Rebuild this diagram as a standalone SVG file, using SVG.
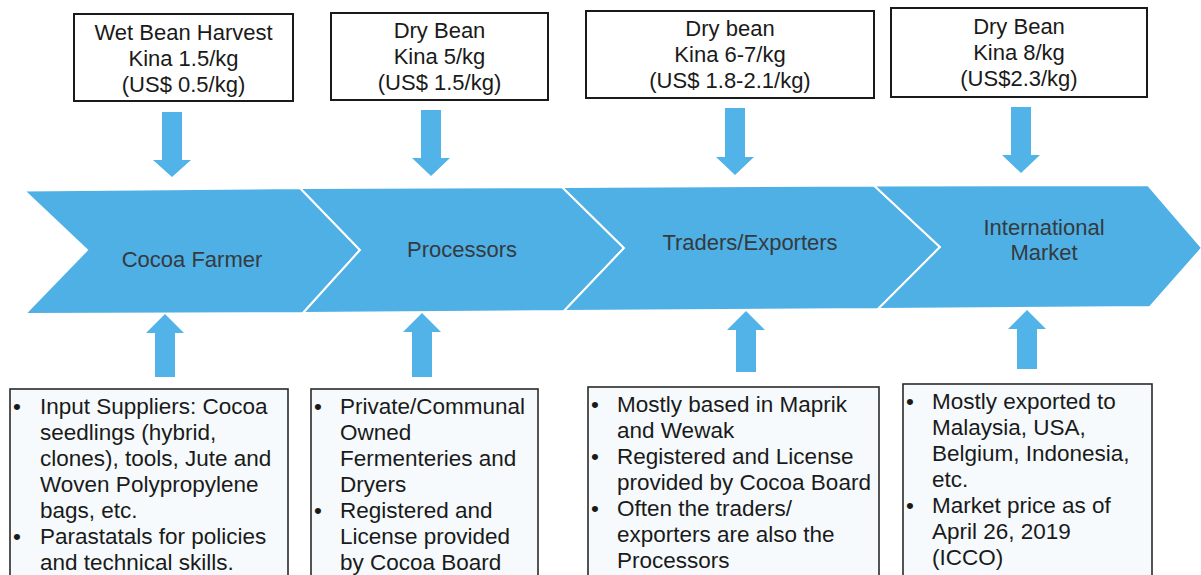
<svg xmlns="http://www.w3.org/2000/svg" width="1201" height="575" viewBox="0 0 1201 575">
<style>
.bg{fill:#ffffff}
.chev{fill:#4eb0e4;stroke:#ffffff;stroke-width:2;stroke-linejoin:miter}
.arr{fill:#51b3e8}
.topbox{fill:#ffffff;stroke:#1a1a1a;stroke-width:2}
.botbox{fill:#f6fafd;stroke:#2a2a2a;stroke-width:1.6}
.t{font-family:"Liberation Sans",Arial,sans-serif;font-size:22px;fill:#1a1a1a}
.c{text-anchor:middle}
.lbl{font-family:"Liberation Sans",Arial,sans-serif;font-size:22px;fill:#353a3f;text-anchor:middle}
.b{font-family:"Liberation Sans",Arial,sans-serif;font-size:22.5px;fill:#1a1a1a}
</style>
<rect class="bg" x="0" y="0" width="1201" height="575"/>

<g id="chain">
  <g id="cocoa-farmer">
    <polygon class="chev" points="24,190.5 300,188 360,250 303,313 25,314 87,250"/>
    <text class="lbl" x="192" y="267">Cocoa Farmer</text>
  </g>
  <g id="processors">
    <polygon class="chev" points="300,188 562,187 624,248 564,311 303,313 360,250"/>
    <text class="lbl" x="462" y="257">Processors</text>
  </g>
  <g id="traders">
    <polygon class="chev" points="562,187 874,185.5 940,247 878,309 564,311 624,248"/>
    <text class="lbl" x="750" y="250">Traders/Exporters</text>
  </g>
  <g id="international">
    <polygon class="chev" points="874,185.5 1148,185 1202,248 1150,307 878,309 940,247"/>
    <text class="lbl" x="1044" y="235">International</text>
    <text class="lbl" x="1044" y="260">Market</text>
  </g>
</g>

<g id="price-boxes">
  <g id="price-farmer">
    <rect class="topbox" x="74" y="14" width="219" height="87"/>
    <text class="t c" x="183.5" y="40">Wet Bean Harvest</text>
    <text class="t c" x="183.5" y="66">Kina 1.5/kg</text>
    <text class="t c" x="183.5" y="92">(US$ 0.5/kg)</text>
  </g>
  <g id="price-processors">
    <rect class="topbox" x="331" y="13" width="217" height="87"/>
    <text class="t c" x="439.5" y="38">Dry Bean</text>
    <text class="t c" x="439.5" y="64">Kina 5/kg</text>
    <text class="t c" x="439.5" y="90">(US$ 1.5/kg)</text>
  </g>
  <g id="price-traders">
    <rect class="topbox" x="586" y="11" width="288" height="87"/>
    <text class="t c" x="730" y="36">Dry bean</text>
    <text class="t c" x="730" y="62">Kina 6-7/kg</text>
    <text class="t c" x="730" y="88">(US$ 1.8-2.1/kg)</text>
  </g>
  <g id="price-international">
    <rect class="topbox" x="891" y="8" width="256" height="89"/>
    <text class="t c" x="1019" y="34">Dry Bean</text>
    <text class="t c" x="1019" y="60">Kina 8/kg</text>
    <text class="t c" x="1019" y="86">(US$2.3/kg)</text>
  </g>
</g>

<g id="connectors">
  <polygon class="arr" points="162,112 182,112 182,160 191,160 172,177 153,160 162,160"/>
  <polygon class="arr" points="421,110 441,110 441,158 450,158 431,176 412,158 421,158"/>
  <polygon class="arr" points="725,108 745,108 745,157 754,157 735,175 716,157 725,157"/>
  <polygon class="arr" points="1011,107 1031,107 1031,155 1040,155 1021,173 1002,155 1011,155"/>
  <polygon class="arr" points="165,314 184,333 175,333 175,377 155,377 155,333 146,333"/>
  <polygon class="arr" points="422,313 441,332 432,332 432,377 412,377 412,332 403,332"/>
  <polygon class="arr" points="746,311 765,330 756,330 756,372 736,372 736,330 727,330"/>
  <polygon class="arr" points="1027,310 1046,329 1037,329 1037,369 1017,369 1017,329 1008,329"/>
</g>

<g id="info-farmer">
  <rect class="botbox" x="10" y="389" width="278" height="195"/>
  <text class="b" x="13" y="414">•</text>
  <text class="b" x="40" y="414">Input Suppliers: Cocoa</text>
  <text class="b" x="40" y="440">seedlings (hybrid,</text>
  <text class="b" x="40" y="466">clones), tools, Jute and</text>
  <text class="b" x="40" y="492">Woven Polypropylene</text>
  <text class="b" x="40" y="518">bags, etc.</text>
  <text class="b" x="13" y="544">•</text>
  <text class="b" x="40" y="544">Parastatals for policies</text>
  <text class="b" x="40" y="569.5">and technical skills.</text>
</g>
<g id="info-processors">
  <rect class="botbox" x="311" y="389" width="227" height="195"/>
  <text class="b" x="314" y="414">•</text>
  <text class="b" x="340" y="414">Private/Communal</text>
  <text class="b" x="340" y="440">Owned</text>
  <text class="b" x="340" y="466">Fermenteries and</text>
  <text class="b" x="340" y="492">Dryers</text>
  <text class="b" x="314" y="518">•</text>
  <text class="b" x="340" y="518">Registered and</text>
  <text class="b" x="340" y="544">License provided</text>
  <text class="b" x="340" y="569.5">by Cocoa Board</text>
</g>
<g id="info-traders">
  <rect class="botbox" x="588" y="387" width="291" height="195"/>
  <text class="b" x="591" y="412">•</text>
  <text class="b" x="617" y="412">Mostly based in Maprik</text>
  <text class="b" x="617" y="438">and Wewak</text>
  <text class="b" x="591" y="464">•</text>
  <text class="b" x="617" y="464">Registered and License</text>
  <text class="b" x="617" y="490">provided by Cocoa Board</text>
  <text class="b" x="591" y="516">•</text>
  <text class="b" x="617" y="516">Often the traders/</text>
  <text class="b" x="617" y="542">exporters are also the</text>
  <text class="b" x="617" y="568">Processors</text>
</g>
<g id="info-international">
  <rect class="botbox" x="903" y="384" width="249" height="195"/>
  <text class="b" x="906" y="409">•</text>
  <text class="b" x="932" y="409">Mostly exported to</text>
  <text class="b" x="932" y="435">Malaysia, USA,</text>
  <text class="b" x="932" y="461">Belgium, Indonesia,</text>
  <text class="b" x="932" y="487">etc.</text>
  <text class="b" x="906" y="513">•</text>
  <text class="b" x="932" y="513">Market price as of</text>
  <text class="b" x="932" y="539">April 26, 2019</text>
  <text class="b" x="932" y="565">(ICCO)</text>
</g>
</svg>
